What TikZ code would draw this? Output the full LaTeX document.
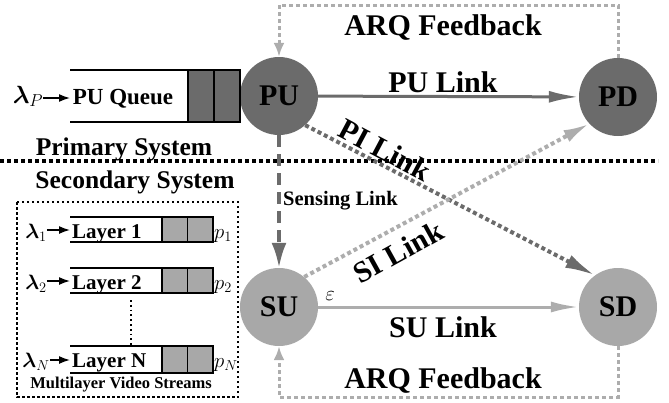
\documentclass[tikz,border=0pt]{standalone}
\usepackage{bm}
\usepackage{fontspec}
\setmainfont{Liberation Serif}
\usetikzlibrary{arrows.meta}
\newcommand\myfs[1]{\fontsize{#1}{#1}\selectfont\bfseries}
\definecolor{dkc}{gray}{0.42}
\definecolor{ltc}{gray}{0.66}
\definecolor{dkline}{gray}{0.42}
\definecolor{ltline}{gray}{0.68}
\begin{document}
\begin{tikzpicture}[x=1pt,y=-1pt,
  bigc/.style={circle,minimum size=78pt,inner sep=0pt,font=\myfs{30}},
  lbl/.style={anchor=base,inner sep=0pt},
  qline/.style={line width=1.5pt,black},
  inarrow/.style={line width=1.5pt,black,-{Latex[length=11pt,width=8pt]}},
  arq/.style={line width=3pt,ltline,dash pattern=on 4pt off 3pt,-{Latex[length=14pt,width=11pt]}},
  divider/.style={line width=3.5pt,black,dash pattern=on 4pt off 3pt},
  boxdot/.style={line width=2pt,black,dash pattern=on 2.5pt off 2.5pt},
]
\useasboundingbox (0,0) rectangle (669,402);

% divider
\coordinate (dl) at (0,161);
\coordinate (dr) at (658,161);
\draw[divider] (dl) -- (dr);

% nodes
\node[bigc,fill=dkc] (PU) at (279,96) {PU};
\node[bigc,fill=dkc] (PD) at (618,97) {PD};
\node[bigc,fill=ltc] (SU) at (279,307) {SU};
\node[bigc,fill=ltc] (SD) at (618,307) {SD};

% links
\draw[line width=3pt,dkline,-{Latex[length=30pt,width=12pt]}] (PU) -- (PD);
\draw[line width=3pt,ltline,-{Latex[length=28pt,width=11pt]}] (SU) -- (SD);
\draw[line width=4pt,dkline,dash pattern=on 4pt off 3pt,-{Latex[length=30pt,width=14pt]}] (PU.-48) -- (SD.126);
\draw[line width=4pt,ltline,dash pattern=on 4pt off 3pt,-{Latex[length=26pt,width=13pt]}] (SU.50) -- (PD.223);
\draw[line width=3.5pt,dkline,dash pattern=on 12pt off 7pt,-{Latex[length=25pt,width=15pt]}] (PU.south) -- (SU.north);

% ARQ loops
\coordinate (t2) at (279,5);
\coordinate (b2) at (279,397);
\draw[arq] (PD.north) |- (t2) -- (PU.north);
\draw[arq] (SD.south) |- (b2) -- (SU.south);

% link labels
\node[lbl,font=\myfs{30}] (arqt) at (443,35) {ARQ Feedback};
\node[lbl,font=\myfs{30}] (pul) at (443,92) {PU Link};
\node[lbl,font=\myfs{30}] (sul) at (443,337) {SU Link};
\node[lbl,font=\myfs{30}] (arqb) at (443,388) {ARQ Feedback};
\node[font=\myfs{30},inner sep=0pt,rotate=-28] (pil) at (385,150) {PI Link};
\node[font=\myfs{30},inner sep=0pt,rotate=29] (sil) at (398,252) {SI Link};
\node[lbl,anchor=base west,font=\myfs{20.5}] (sen) at (283,205) {Sensing Link};
\node[lbl,font=\fontsize{20}{20}\selectfont] (eps) at (330,300) {$\varepsilon$};

% primary queue
\coordinate (qP) at (70,98);
\draw[qline] (70,70) -- (240,70);
\draw[qline] (70,122) -- (240,122);
\filldraw[qline,fill=dkc] (188,70) rectangle (214,122);
\filldraw[qline,fill=dkc] (214,70) rectangle (240,122);
\node[lbl,font=\myfs{23}] (puq) at (123,104) {PU Queue};
\node[lbl,font=\fontsize{23}{23}\selectfont] (lamP) at (28,103) {$\bm{\lambda}_P$};
\draw[inarrow] (lamP.east |- qP) -- (qP);

\node[lbl,font=\myfs{25.5}] (prim) at (124,155) {Primary System};
\node[lbl,font=\myfs{25.5}] (sec) at (135,188) {Secondary System};

% secondary queues
\draw[boxdot] (17,202) rectangle (238,397);
\foreach \t/\b/\bl/\ay/\lab/\s/\nm in {217/242/238/230/Layer 1/1/a,268/293/289/281/Layer 2/2/b,346/373/367/360/Layer N/N/c}{
  \draw[qline] (70,\t) -- (213,\t);
  \draw[qline] (70,\b) -- (213,\b);
  \filldraw[qline,fill=ltc] (162,\t) rectangle (187.5,\b);
  \filldraw[qline,fill=ltc] (187.5,\t) rectangle (213,\b);
  \node[lbl,anchor=base west,font=\myfs{21}] (L\nm) at (72,\bl) {\lab};
  \node[lbl,font=\fontsize{22}{22}\selectfont] (lam\nm) at (36,\bl) {$\bm{\lambda}_{\s}$};
  \node[lbl,anchor=base west,font=\fontsize{20}{20}\selectfont] (p\nm) at (214,\bl) {$p_{\s}$};
  \coordinate (q\nm) at (70,\ay);
  \draw[inarrow] (lam\nm.east |- q\nm) -- (q\nm);
}
\coordinate (d1) at (131,300);
\coordinate (d2) at (131,345);
\draw[line width=1.8pt,black,dash pattern=on 1.8pt off 3pt] (d1) -- (d2);
\node[lbl,font=\myfs{16.5}] (mvs) at (121,388) {Multilayer Video Streams};
\end{tikzpicture}
\end{document}
